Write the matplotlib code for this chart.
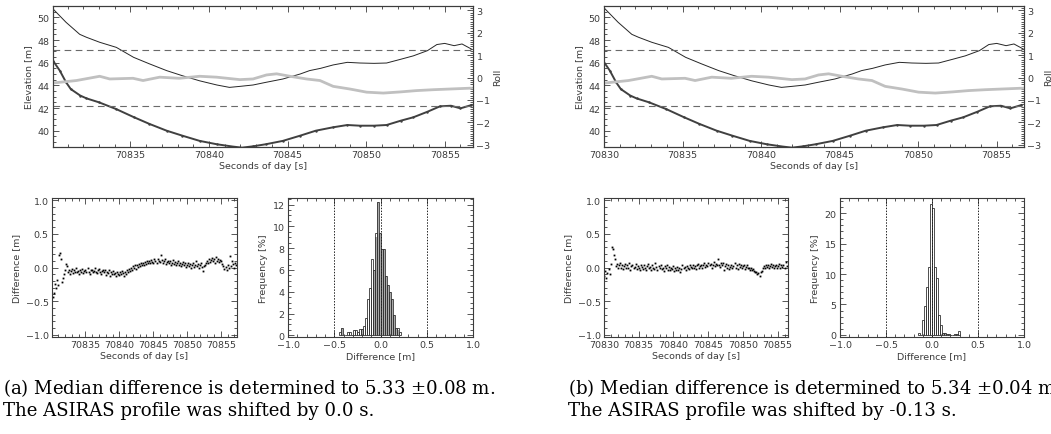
import numpy as np
import matplotlib.pyplot as plt
from matplotlib.ticker import MultipleLocator

# --- top panels: laser elevation, ASIRAS elevation, roll
laser_t = [70830.07, 70830.9, 70831.77, 70832.2, 70833.04, 70834.1, 70835.2, 70836.2, 70837.3,
           70838.3, 70839.4, 70840.5, 70841.3, 70841.9, 70842.8, 70843.6, 70844.7, 70845.8,
           70846.4, 70847.1, 70847.9, 70848.8, 70849.6, 70850.5, 70851.3, 70852.2, 70853.0,
           70853.9, 70854.5, 70855.0, 70855.6, 70856.1, 70856.7]
laser_e = [50.74, 49.56, 48.5, 48.24, 47.8, 47.35, 46.47, 45.9, 45.3, 44.85, 44.4, 44.03, 43.82,
           43.9, 44.03, 44.26, 44.56, 45.0, 45.3, 45.5, 45.8, 46.03, 45.97, 45.94, 45.97, 46.3,
           46.6, 47.06, 47.6, 47.7, 47.5, 47.65, 47.2]

asiras_t = [70830.07, 70830.5, 70830.9, 70831.2, 70831.8, 70832.2, 70833.0, 70834.1, 70835.2,
            70836.2, 70837.3, 70838.3, 70839.4, 70840.5, 70841.5, 70842.1, 70842.8, 70843.6,
            70844.7, 70845.8, 70846.8, 70847.9, 70848.8, 70849.6, 70850.5, 70851.3, 70852.2,
            70853.0, 70853.9, 70854.7, 70855.4, 70856.0, 70856.7]
asiras_e = [46.17, 45.3, 44.27, 43.67, 43.1, 42.85, 42.5, 41.9, 41.2, 40.6, 40.0, 39.56, 39.1,
            38.8, 38.6, 38.5, 38.62, 38.8, 39.1, 39.56, 40.0, 40.3, 40.5, 40.44, 40.44, 40.5,
            40.88, 41.18, 41.67, 42.15, 42.2, 41.97, 42.26]

roll_t = [70830.07, 70831.56, 70833.04, 70833.68, 70835.16, 70835.8, 70836.86, 70838.1,
          70839.4, 70840.48, 70841.96, 70842.8, 70843.66, 70844.3, 70845.15, 70846.2,
          70847.06, 70847.9, 70848.97, 70850.03, 70851.09, 70852.15, 70853.2, 70854.27,
          70855.3, 70856.7]
roll_v = [-0.24, -0.13, 0.06, -0.06, -0.03, -0.13, 0.02, -0.03, 0.06, 0.02, -0.09, -0.06, 0.12,
          0.17, 0.06, -0.06, -0.13, -0.39, -0.51, -0.65, -0.69, -0.64, -0.58, -0.54, -0.51, -0.47]
roll_limits = [-1.25, 1.25]

shift_a = 0.0
shift_b = -0.13

# --- differences (sample every 0.15 s)
diff_step = 0.15
diff_a_start = 70830.20
diff_a = [-0.43, -0.38, -0.24, -0.31, -0.19, -0.26, 0.19, 0.22, 0.12, -0.21,
          -0.16, -0.09, -0.03, 0.05, 0.02, -0.07, -0.04, -0.09, -0.05, -0.02,
          -0.08, -0.04, -0.06, -0.01, -0.07, -0.05, -0.10, -0.03, -0.06, -0.02,
          -0.08, -0.05, -0.04, -0.07, -0.01, -0.06, -0.09, -0.04, -0.03, -0.07,
          -0.05, 0.00, -0.06, -0.08, -0.04, -0.02, -0.06, -0.09, -0.05, -0.03,
          -0.07, -0.04, -0.11, -0.06, -0.08, -0.04, -0.12, -0.07, -0.09, -0.05,
          -0.10, -0.08, -0.13, -0.06, -0.09, -0.11, -0.07, -0.10, -0.05, -0.08,
          -0.12, -0.06, -0.09, -0.04, -0.07, -0.02, -0.05, 0.00, -0.03, 0.02,
          -0.01, 0.03, -0.02, 0.04, 0.01, 0.05, 0.02, 0.06, 0.03, 0.07,
          0.04, 0.08, 0.05, 0.09, 0.06, 0.10, 0.07, 0.11, 0.08, 0.06,
          0.12, 0.09, 0.07, 0.13, 0.10, 0.08, 0.19, 0.11, 0.07, 0.09,
          0.12, 0.05, 0.08, 0.10, 0.06, 0.09, 0.04, 0.07, 0.11, 0.05,
          0.08, 0.03, 0.06, 0.09, 0.04, 0.07, 0.02, 0.05, 0.08, 0.03,
          0.06, 0.01, 0.04, 0.07, 0.02, 0.05, 0.00, 0.03, 0.06, 0.01,
          0.04, 0.09, 0.02, 0.05, -0.01, 0.03, 0.06, 0.01, -0.05, 0.02,
          0.04, 0.07, 0.10, 0.06, 0.12, 0.08, 0.11, 0.14, 0.09, 0.12,
          0.07, 0.15, 0.10, 0.13, 0.08, 0.11, 0.09, 0.05, 0.02, -0.02,
          0.01, -0.04, 0.03, -0.01, 0.17, 0.02, 0.10, 0.05, 0.00, 0.07,
          0.03]
diff_b_start = 70830.05
diff_b = [-0.12, -0.05, -0.15, -0.08, -0.02, -0.10, 0.05, 0.31, 0.27, 0.18,
          0.12, 0.02, 0.05, -0.01, 0.03, 0.06, 0.00, 0.04, -0.02, 0.02,
          0.05, -0.01, 0.03, 0.00, 0.06, -0.03, 0.02, 0.04, -0.01, 0.01,
          0.05, -0.02, 0.02, 0.00, -0.04, 0.03, 0.01, -0.02, 0.04, 0.00,
          -0.03, 0.02, 0.05, -0.01, 0.01, -0.04, 0.03, 0.00, -0.02, 0.06,
          0.01, -0.03, 0.02, -0.01, 0.04, -0.02, 0.00, -0.05, 0.02, -0.01,
          0.03, -0.03, 0.01, -0.04, 0.00, -0.02, 0.02, -0.05, -0.01, -0.03,
          0.01, -0.04, 0.00, -0.06, -0.02, 0.03, -0.01, 0.01, -0.03, 0.02,
          0.00, -0.02, 0.03, 0.01, -0.01, 0.04, 0.00, 0.02, -0.02, 0.03,
          0.05, 0.00, 0.02, 0.04, -0.01, 0.03, 0.06, 0.01, 0.04, 0.02,
          0.07, 0.03, 0.05, 0.00, 0.04, 0.08, 0.02, 0.05, 0.03, 0.12,
          0.04, 0.01, 0.06, 0.03, 0.07, -0.03, 0.02, 0.05, 0.00, 0.03,
          -0.02, 0.01, 0.04, -0.01, 0.02, 0.07, 0.00, 0.03, -0.02, 0.05,
          0.01, 0.03, -0.01, 0.02, 0.04, -0.02, 0.01, 0.03, -0.01, 0.00,
          -0.03, -0.01, -0.04, -0.02, -0.05, -0.07, -0.06, -0.09, -0.08, -0.12,
          -0.07, -0.05, -0.01, 0.02, 0.00, 0.03, 0.01, 0.04, 0.00, 0.02,
          0.05, 0.01, 0.03, -0.01, 0.02, 0.04, 0.00, 0.02, 0.05, -0.01,
          0.03, 0.01, 0.04, 0.00, 0.08, 0.02, 0.31]

# --- histograms of the differences [%]
hist_bin = 0.0217
hist_a_start = -0.4525
hist_a = [0.3, 0.7, 0, 0, 0.3, 0.3, 0, 0.5, 0.5, 0.3, 0.55, 0.55, 0.9, 1.6, 3.3, 4.3,
          7.0, 6.0, 9.4, 12.2, 9.4, 7.9, 7.9, 5.4, 4.6, 4.0, 3.3, 1.9, 0.7, 0.7, 0.3]
hist_a_gray = [0, 0.7, 0, 0, 0, 0, 0, 0, 0, 0, 0, 0.55, 0, 0, 0, 0,
               0, 6.0, 9.0, 12.2, 9.4, 7.9, 7.9, 5.4, 4.6, 4.0, 3.3, 1.9, 0.7, 0.5, 0]
hist_b_start = -0.155
hist_b = [0.3, 0, 2.4, 4.8, 7.9, 11.2, 21.5, 20.8, 11.1, 9.3, 3.3, 1.6, 0.3, 0.3, 0.2,
          0.1, 0, 0, 0.15, 0.15, 0.7]
hist_b_gray = [0, 0, 0, 0, 0, 0, 0, 0, 0, 0, 0, 0, 0.3, 0.3, 0.2, 0.1, 0, 0, 0.15, 0.15, 0]

captions = [
    "(a) Median difference is determined to 5.33 $\\pm$0.08 m.\nThe ASIRAS profile was shifted by 0.0 s.",
    "(b) Median difference is determined to 5.34 $\\pm$0.04 m.\nThe ASIRAS profile was shifted by -0.13 s.",
]

W, H = 1051, 435
fig = plt.figure(figsize=(W / 100, H / 100), dpi=100)
plt.rcParams['mathtext.fontset'] = 'dejavuserif'

AX = '#3c3c3c'
FS = 6.8


def box(x0, x1, y0, y1):
    return [x0 / W, 1 - y1 / H, (x1 - x0) / W, (y1 - y0) / H]


def style(ax, top=True, right=True):
    for s in ax.spines.values():
        s.set_color(AX)
        s.set_linewidth(0.8)
    ax.tick_params(which='both', direction='in', top=top, right=right, colors=AX,
                   labelsize=FS, pad=2.5, width=0.6)
    ax.tick_params(which='major', length=4)
    ax.tick_params(which='minor', length=2)


def top_panel(x0, x1, xlim, shift):
    ax = fig.add_axes(box(x0, x1, 7, 148))
    ax.plot(laser_t, laser_e, color='#262626', lw=0.7)
    ax.plot(np.array(asiras_t) + shift, asiras_e, color='#404040', lw=1.4,
            marker='.', ms=1.5)
    ax.set_xlim(*xlim)
    ax.set_ylim(38.56, 51.0)
    ax.xaxis.set_major_locator(MultipleLocator(5))
    ax.xaxis.set_minor_locator(MultipleLocator(1))
    ax.yaxis.set_major_locator(MultipleLocator(2))
    ax.yaxis.set_minor_locator(MultipleLocator(0.5))
    ax.ticklabel_format(useOffset=False)
    style(ax, top=True, right=False)
    ax.set_ylabel('Elevation [m]', fontsize=FS, color=AX, labelpad=3)
    ax.set_xlabel('Seconds of day [s]', fontsize=FS, color=AX, labelpad=1)
    r = ax.twinx()
    r.plot(roll_t, roll_v, color='#c0c0c0', lw=2.0)
    for lim in roll_limits:
        r.axhline(lim, color='#6a6a6a', lw=0.8, dashes=(6, 4))
    r.set_ylim(-3.1, 3.2)
    r.yaxis.set_major_locator(MultipleLocator(1))
    r.yaxis.set_minor_locator(MultipleLocator(0.1))
    style(r, top=False, right=True)
    r.tick_params(which='both', left=False)
    r.set_ylabel('Roll', fontsize=FS, color=AX, rotation=90, labelpad=2)
    return ax


def diff_panel(x0, x1, xlim, start, values):
    ax = fig.add_axes(box(x0, x1, 199, 338))
    t = start + diff_step * np.arange(len(values))
    ax.plot(t, values, 's', color='black', ms=1.3, mew=0)
    ax.set_xlim(*xlim)
    ax.set_ylim(-1.03, 1.03)
    ax.xaxis.set_major_locator(MultipleLocator(5))
    ax.xaxis.set_minor_locator(MultipleLocator(1))
    ax.yaxis.set_major_locator(MultipleLocator(0.5))
    ax.yaxis.set_minor_locator(MultipleLocator(0.1))
    ax.ticklabel_format(useOffset=False)
    style(ax)
    ax.set_ylabel('Difference [m]', fontsize=FS, color=AX, labelpad=3)
    ax.set_xlabel('Seconds of day [s]', fontsize=FS, color=AX, labelpad=1)
    return ax


def hist_panel(x0, x1, start, heights, gray, ylim, ymaj, ymin):
    ax = fig.add_axes(box(x0, x1, 199, 338))
    centers = start + hist_bin * (np.arange(len(heights)) + 0.5)
    ax.bar(centers, gray, width=hist_bin, color='#aaaaaa', lw=0)
    ax.bar(centers, heights, width=hist_bin, facecolor='none', edgecolor='#333333', lw=0.6)
    for v in (-0.5, 0.0, 0.5):
        ax.axvline(v, color='#222222', lw=0.7, dashes=(1.5, 1.5))
    ax.set_xlim(-1.0, 1.0)
    ax.set_ylim(*ylim)
    ax.xaxis.set_major_locator(MultipleLocator(0.5))
    ax.xaxis.set_minor_locator(MultipleLocator(0.1))
    ax.yaxis.set_major_locator(MultipleLocator(ymaj))
    ax.yaxis.set_minor_locator(MultipleLocator(ymin))
    style(ax)
    ax.set_ylabel('Frequency [%]', fontsize=FS, color=AX, labelpad=3)
    ax.set_xlabel('Difference [m]', fontsize=FS, color=AX, labelpad=1)
    return ax


# panel (a)
top_panel(52.7, 473, (70830.05, 70856.8), shift_a)
diff_panel(52, 237, (70830.05, 70857.4), diff_a_start, diff_a)
hist_panel(288, 473, hist_a_start, hist_a, hist_a_gray, (-0.15, 12.6), 2, 0.5)

# panel (b)
top_panel(604, 1024, (70830.0, 70856.74), shift_b)
diff_panel(604, 788, (70830.0, 70856.5), diff_b_start, diff_b)
hist_panel(840, 1024, hist_b_start, hist_b, hist_b_gray, (-0.35, 22.5), 5, 1)

for x, txt in zip((3, 568), captions):
    fig.text(x / W, 1 - 377 / H, txt, family='DejaVu Serif', fontsize=13.1,
             va='top', ha='left', linespacing=1.2)

fig.savefig('out.png', dpi=100)
